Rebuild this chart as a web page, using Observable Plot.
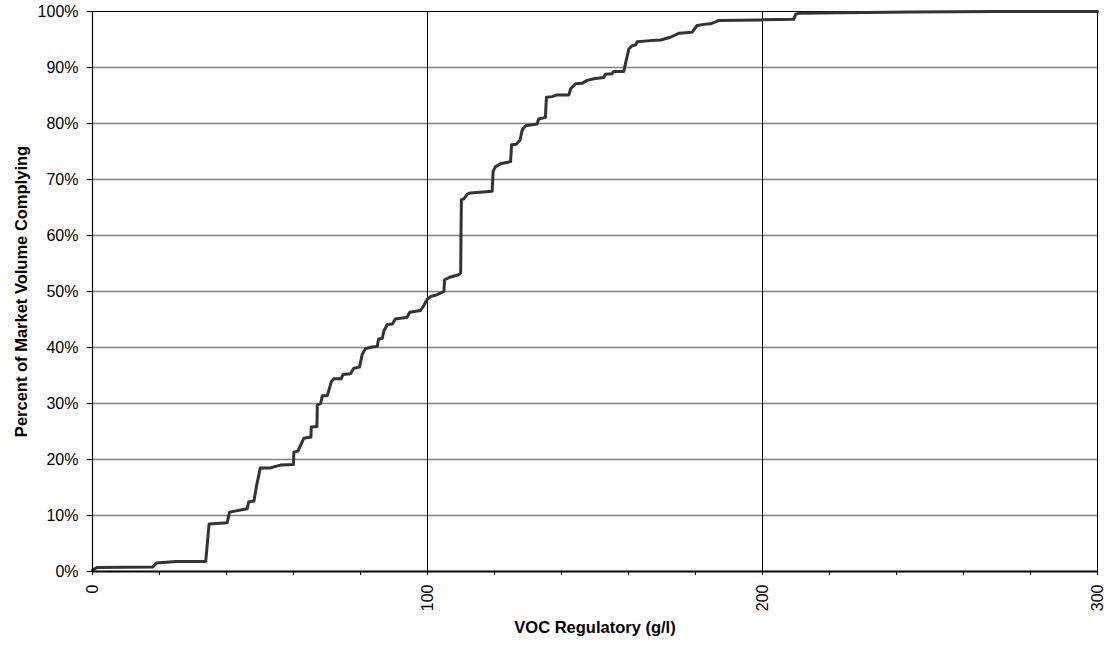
<!DOCTYPE html>
<html>
<head>
<meta charset="utf-8">
<script src="https://cdn.jsdelivr.net/npm/d3@7"></script>
<script src="https://cdn.jsdelivr.net/npm/@observablehq/plot@0.6"></script>
<style>
  html, body { margin: 0; padding: 0; background: #fff; }
  #chart { width: 1104px; height: 648px; }
</style>
</head>
<body>
<div id="chart"></div>
<script>
// VOC regulatory limit (g/l)
const vocValues = [
  0, 1.3, 18, 19, 25, 33.8, 34.8, 40.2, 40.9, 46.2, 46.6, 48.2, 49, 50.1, 53.1, 56.1, 60.0,
  60.1, 61.3, 63.1, 65.2, 65.3, 67.0, 67.1, 68.1, 68.6, 70.1, 71.3, 72.0, 74.2, 74.8, 77.0,
  78.0, 79.7, 80.5, 81.5, 83.5, 85.0, 85.4, 86.5, 87.0, 88.0, 89.5, 90.4, 93.9, 94.7, 97.9,
  98.9, 99.9, 100.9, 102.7, 104.9, 105.1, 106.9, 109.3, 109.9, 110.1, 110.8, 111.9, 112.8,
  119.3, 119.6, 120.3, 121.8, 124.8, 125.1, 126.5, 127.6, 128.3, 129.3, 132.7, 133.2, 135.2,
  135.5, 137.2, 138.7, 142.2, 142.7, 144.2, 146.2, 147.7, 149.6, 152.6, 153.1, 155.1, 155.6,
  158.6, 159.1, 160.1, 161.1, 162.1, 162.6, 166.6, 169.6, 172.5, 175.0, 177.0, 179.0, 180.5,
  182.5, 184.5, 187.0, 199.4, 209.3, 209.9, 210.8, 244, 270, 300
];
// Cumulative percent of market volume complying
const percentValues = [
  0.2, 0.7, 0.8, 1.5, 1.8, 1.8, 8.5, 8.7, 10.6, 11.2, 12.4, 12.6, 15.4, 18.5, 18.5, 19.0, 19.1,
  21.3, 21.5, 23.8, 24.0, 25.8, 25.9, 29.7, 30.0, 31.4, 31.4, 33.9, 34.4, 34.4, 35.2, 35.3,
  36.3, 36.5, 38.75, 39.8, 40.1, 40.2, 41.5, 41.6, 43.0, 44.1, 44.2, 45.1, 45.4, 46.3, 46.6,
  47.5, 48.6, 49.1, 49.4, 50.0, 52.1, 52.6, 53.0, 53.3, 66.4, 66.5, 67.4, 67.6,
  67.9, 71.5, 72.3, 72.8, 73.2, 76.2, 76.3, 77.0, 78.9, 79.6, 79.9, 80.8, 81.1,
  84.7, 84.8, 85.1, 85.1, 86.2, 87.1, 87.2, 87.7, 88.0, 88.2, 88.8, 88.9, 89.3,
  89.3, 90.7, 93.3, 93.9, 94.0, 94.6, 94.8, 94.9, 95.4, 96.1, 96.2, 96.3, 97.5,
  97.7, 97.8, 98.4, 98.5, 98.6, 99.5, 99.7, 99.9, 100, 100
];
const xMajorTicks = [0, 100, 200, 300];
const xMinorTicks = [0, 20, 40, 60, 80, 100, 120, 140, 160, 180, 200, 220, 240, 260, 280, 300];
const yTicks = [0, 10, 20, 30, 40, 50, 60, 70, 80, 90, 100];
const yGridLines = [10, 20, 30, 40, 50, 60, 70, 80, 90];
const xTitle = "VOC Regulatory (g/l)";
const yTitle = "Percent of Market Volume Complying";

const data = vocValues.map((v, i) => ({voc: v, pct: percentValues[i]}));

const chart = Plot.plot({
  width: 1104,
  height: 648,
  marginLeft: 92,
  marginRight: 7,
  marginTop: 11,
  marginBottom: 77,
  x: {domain: [0, 300]},
  y: {domain: [0, 100]},
  style: {fontFamily: "'Liberation Sans', Arial, sans-serif", fontSize: "16px", color: "#000", background: "#fff"},
  marks: [
    Plot.ruleY(yGridLines, {stroke: "#808080", strokeWidth: 1.5}),
    Plot.ruleX([100, 200], {stroke: "#000", strokeWidth: 1}),
    Plot.ruleY([100], {stroke: "#000", strokeWidth: 1}),
    Plot.ruleX([300], {stroke: "#000", strokeWidth: 1}),
    Plot.line(data, {x: "voc", y: "pct", stroke: "#333333", strokeWidth: 3, strokeLinejoin: "round", curve: "linear"}),
    Plot.ruleX([0], {stroke: "#000", strokeWidth: 1.2}),
    Plot.ruleY([0], {stroke: "#000", strokeWidth: 2}),
    Plot.axisY({ticks: yTicks, tickSize: 5, tickPadding: 9, tickFormat: d => d + "%", label: null, fontSize: 16, stroke: "#000"}),
    Plot.axisX({ticks: xMinorTicks, tickSize: 4, tickPadding: 9, tickRotate: -90,
      tickFormat: d => xMajorTicks.includes(d) ? String(d) : "", label: null, fontSize: 16}),
    Plot.text([xTitle], {frameAnchor: "bottom", dy: 61.5, textAnchor: "middle", fontWeight: "bold", fontSize: 16.5, fill: "#000"}),
    Plot.text([yTitle], {frameAnchor: "left", dx: -71, rotate: -90, textAnchor: "middle", fontWeight: "bold", fontSize: 16.5, fill: "#000"})
  ]
});
document.getElementById("chart").appendChild(chart);
</script>
</body>
</html>
